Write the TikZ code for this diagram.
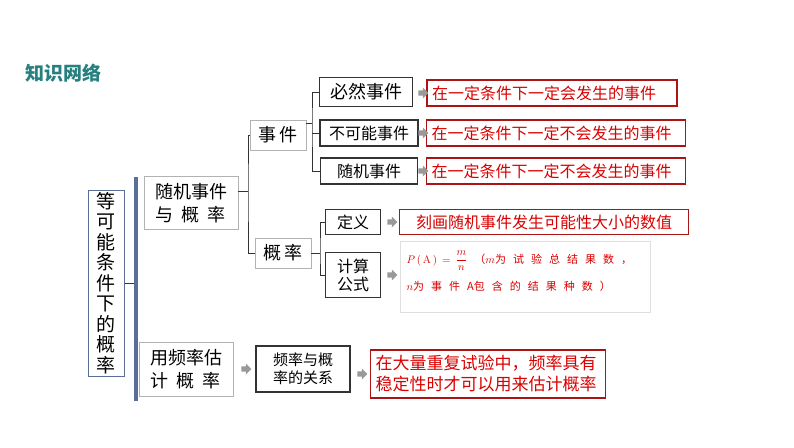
\documentclass[tikz,border=0pt]{standalone}
\usepackage{amsmath}
\usepackage{fontspec}
\newfontfamily\cjk{Noto Sans CJK SC}
\usetikzlibrary{shapes.arrows}
\definecolor{titleteal}{RGB}{38,128,128}
\definecolor{darkred}{RGB}{170,20,20}
\definecolor{boxblue}{RGB}{90,110,150}
\newcommand{\gapc}{\hspace{7pt}}
\tikzset{
  blk/.style={draw=black!80, line width=1.2pt, inner sep=0pt, font=\cjk\fontsize{16}{18}\selectfont, align=center},
  lite/.style={draw=gray!60, line width=0.8pt, inner sep=0pt, font=\cjk\fontsize{18}{23}\selectfont, align=left},
  redbox/.style={draw=darkred, line width=1.2pt, inner sep=0pt, text=red!85!black, font=\cjk\fontsize{16}{19}\selectfont, align=left},
  arr/.style={single arrow, draw=none, fill=gray!80, minimum width=11pt, single arrow head extend=2pt, minimum height=10pt, inner sep=1.5pt},
  brk/.style={line width=0.8pt, black!80}
}
\begin{document}
\begin{tikzpicture}[x=1pt,y=-1pt]
  \useasboundingbox (0,0) rectangle (794,447);
  \node[anchor=west, text=titleteal, font=\cjk\bfseries\fontsize{19}{20}\selectfont] (title) at (22,73) {知识网络};

  % root and main branches
  \node[draw=boxblue, line width=1pt, minimum width=36pt, minimum height=186pt, inner sep=0pt, font=\cjk\fontsize{19}{20.5}\selectfont, align=center] (root) at (106,283)
    {等\\可\\能\\条\\件\\下\\的\\概\\率};
  \draw[line width=4pt, boxblue] (136,177) -- (136,401);
  \draw[brk] (root.east) -- (134,283);
  \node[lite, minimum width=94pt, minimum height=53pt] (rand) at (191,203) {随机事件\\与\ \ 概\ \ 率};
  \node[lite, minimum width=94pt, minimum height=54pt] (freq) at (186,369) {用频率估\\计\ \ 概\ \ 率};

  % events and probability
  \node[lite, minimum width=56pt, minimum height=30pt] (event) at (278,135) {事\,件};
  \node[lite, minimum width=56pt, minimum height=30pt] (prob) at (283,253) {概\,率};
  \draw[brk] (rand.east |- 0,191) -- (248,191);
  \draw[brk] (event.west) -| (248,191) |- (prob.west);

  \node[blk, minimum width=93pt, minimum height=29pt, font=\cjk\fontsize{18}{20}\selectfont] (sure) at (366,92) {必然事件};
  \node[blk, minimum width=98pt, minimum height=26pt] (imp) at (369,133) {不可能事件};
  \node[blk, minimum width=97pt, minimum height=26pt] (rnd) at (369,171) {随机事件};
  \draw[brk] (event.east |- 0,123) -- (312,123);
  \draw[brk] (sure.west) -| (312,123) |- (rnd.west);
  \draw[brk] (312,133) -- (imp.west);

  \node[redbox, minimum width=250pt, minimum height=26pt, text width=240pt] (sureT) at (552,93) {在一定条件下一定会发生的事件};
  \node[redbox, minimum width=259pt, minimum height=26pt, text width=249pt] (impT) at (556,133) {在一定条件下一定不会发生的事件};
  \node[redbox, minimum width=259pt, minimum height=26pt, text width=249pt] (rndT) at (556,171) {在一定条件下一定不会发生的事件};
  \node[arr] (a1) at (422,93) {};
  \node[arr] (a2) at (422,133) {};
  \node[arr] (a3) at (422,171) {};

  \node[blk, minimum width=55pt, minimum height=25pt] (def) at (353,222) {定义};
  \node[blk, minimum width=55pt, minimum height=45pt] (calc) at (353,275) {计算\\公式};
  \draw[brk] (prob.east) -- (320,253);
  \draw[brk] (def.west) -| (320,253) |- (calc.west);
  \node[arr] (a4) at (391,222) {};
  \node[arr] (a5) at (391,275) {};
  \node[redbox, minimum width=289pt, minimum height=25pt, align=center] (defT) at (544,222) {刻画随机事件发生可能性大小的数值};
  \node[draw=gray!25, line width=1pt, minimum width=250pt, minimum height=71pt] (formbox) at (525,277) {};
  \node[anchor=west, text=red!85!black, font=\cjk\fontsize{11}{12}\selectfont] (form1) at (403,261)
    {$P\,(\,\mathrm{A}\,)\,=\,\dfrac{m}{n}$\gapc（$m$为\gapc 试\gapc 验\gapc 总\gapc 结\gapc 果\gapc 数\gapc ，};
  \node[anchor=west, text=red!85!black, font=\cjk\fontsize{11}{12}\selectfont] (form2) at (403,286)
    {$n$为\gapc 事\gapc 件\gapc A包\gapc 含\gapc 的\gapc 结\gapc 果\gapc 种\gapc 数\gapc ）};

  % frequency
  \node[arr] (a6) at (245,369) {};
  \node[blk, minimum width=94pt, minimum height=46pt, font=\cjk\fontsize{15}{18}\selectfont] (rel) at (303,369) {频率与概\\率的关系};
  \node[arr] (a7) at (361,374) {};
  \node[redbox, minimum width=235pt, minimum height=48pt, text width=225pt, font=\cjk\fontsize{17}{21}\selectfont] (relT) at (488,374) {在大量重复试验中，频率具有\\稳定性时才可以用来估计概率};
\end{tikzpicture}
\end{document}
